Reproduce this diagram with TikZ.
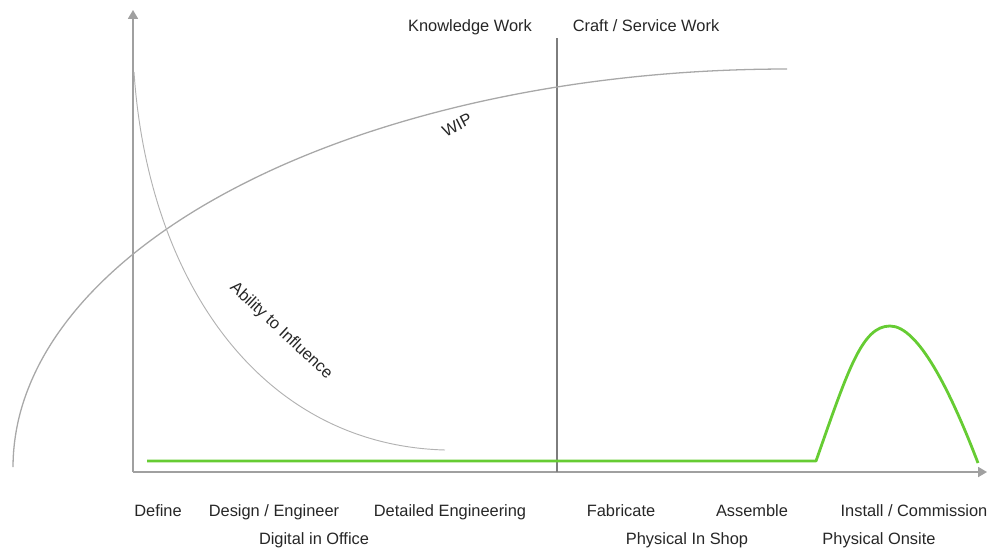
\documentclass[tikz,border=0pt]{standalone}
\usepackage{fontspec}
\setmainfont{Liberation Sans}
\usepackage{tikz}
\usepackage{xcolor}
\usetikzlibrary{arrows.meta}

\definecolor{axisgray}{RGB}{160,160,160}
\definecolor{curvegray}{RGB}{168,168,168}
\definecolor{divgray}{RGB}{125,125,125}
\definecolor{leangreen}{RGB}{102,204,51}

\begin{document}
\begin{tikzpicture}[x=0.03cm, y=-0.03cm,
  lbl/.style={font=\fontsize{14}{16}\selectfont, text=black!85, inner sep=0pt, anchor=base},
  axis/.style={axisgray, line width=1.2pt, -{Triangle[length=7.5pt, width=8.5pt]}},
  crv/.style={curvegray, line width=1.1pt}]
\useasboundingbox (0,0) rectangle (987,550);
% axes
\draw [axis] (133,472) -- (133,10);
\draw [axis] (133,472) -- (987,472);
% knowledge / craft split
\draw [divgray, line width=1.2pt] (557,38) -- (557,472);
\node [lbl] (knowledge) at (470,31) {Knowledge Work};
\node [lbl] (craft) at (646,31) {Craft / Service Work};
% WIP, a quarter ellipse
\draw [crv] plot [domain=90:180, samples=80, variable=\t, smooth]
  ({787+774*cos(\t)}, {467-398*sin(\t)});
\node [lbl, anchor=center, rotate=27] (wip) at (457,125) {WIP};
% ability to influence
\draw [crv, line width=0.8pt, black!30] (134,72) .. controls (148,280) and (260,445) .. (445,450);
\node [lbl, anchor=center, rotate=-43] (ability) at (281,331) {Ability to Influence};
% green line
\draw [leangreen, line width=2.4pt, line join=round] (147,461) -- (816,461)
  .. controls (848,370) and (862,326) .. (890,326)
  .. controls (918,326) and (950,390) .. (978,463);
% stages
\node [lbl] (define) at (158,516) {Define};
\node [lbl] (design) at (274,516) {Design / Engineer};
\node [lbl] (detailed) at (450,516) {Detailed Engineering};
\node [lbl] (fabricate) at (621,516) {Fabricate};
\node [lbl] (assemble) at (752,516) {Assemble};
\node [lbl] (install) at (914,516) {Install / Commission};
\node [lbl] (office) at (314,544) {Digital in Office};
\node [lbl] (shop) at (687,544) {Physical In Shop};
\node [lbl] (onsite) at (879,544) {Physical Onsite};
\end{tikzpicture}
\end{document}
